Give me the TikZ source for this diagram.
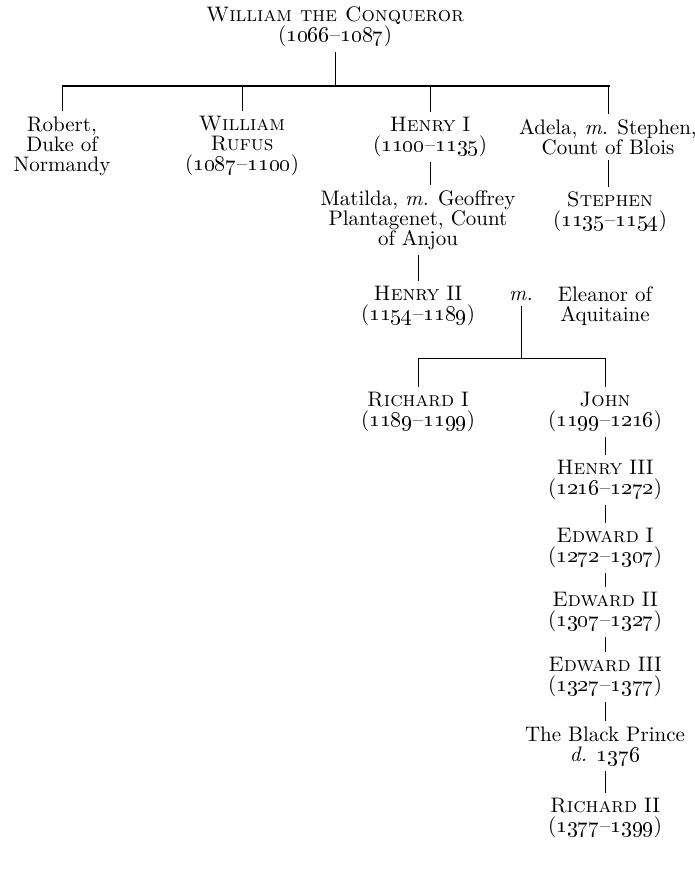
\documentclass[tikz,border=0pt]{standalone}
\usetikzlibrary{positioning}
\newcommand{\yrs}[2]{(\oldstylenums{#1}--\oldstylenums{#2})}
\begin{document}
\begin{tikzpicture}[
    x=0.5pt, y=-0.5pt,
    person/.style={align=center, font=\fontsize{10.5}{10}\selectfont, inner sep=2.5pt},
    link/.style={draw, line width=0.4pt},
    bar/.style={draw, line width=0.9pt},
]
    \useasboundingbox (0,0) rectangle (695,874);

    \node[person] (will) at (335,27) {\textsc{William the Conqueror}\\\yrs{1066}{1087}};

    \node[person] (robert) at (62,146) {Robert,\\Duke of\\Normandy};
    \node[person] (rufus) at (242,146) {\textsc{William}\\\textsc{Rufus}\\\yrs{1087}{1100}};
    \node[person] (henryi) at (430,137) {\textsc{Henry} I\\\yrs{1100}{1135}};
    \node[person] (adela) at (608,137) {Adela, \textit{m.} Stephen,\\Count of Blois};

    \node[person] (matilda) at (418,220) {Matilda, \textit{m.} Geoffrey\\Plantagenet, Count\\of Anjou};
    \node[person] (stephen) at (610,212) {\textsc{Stephen}\\\yrs{1135}{1154}};

    \node[person] (henryii) at (418,306) {\textsc{Henry} II\\\yrs{1154}{1189}};
    \node[person] (wed) at (521,296) {\textit{m.}};
    \node[person] (eleanor) at (605,306) {Eleanor of\\Aquitaine};

    \node[person] (richardi) at (418,412) {\textsc{Richard} I\\\yrs{1189}{1199}};
    \node[person] (john) at (605,412) {\textsc{John}\\\yrs{1199}{1216}};
    \node[person] (henryiii) at (605,480) {\textsc{Henry} III\\\yrs{1216}{1272}};
    \node[person] (edwardi) at (605,548) {\textsc{Edward} I\\\yrs{1272}{1307}};
    \node[person] (edwardii) at (605,612) {\textsc{Edward} II\\\yrs{1307}{1327}};
    \node[person] (edwardiii) at (605,677) {\textsc{Edward} III\\\yrs{1327}{1377}};
    \node[person] (prince) at (605,746) {The Black Prince\\\textit{d.} \oldstylenums{1376}};
    \node[person] (richardii) at (605,818) {\textsc{Richard} II\\\yrs{1377}{1399}};

    % children of William
    \coordinate (barL) at (62,86);
    \coordinate (barR) at (610,86);
    \draw[bar] (barL) -- (barR);
    \draw[link] (will) -- (will |- barL);
    \foreach \n in {robert,rufus,henryi,adela}
        \draw[link] (\n |- barL) -- (\n);

    \draw[link] (henryi) -- (henryi |- matilda.north);
    \draw[link] (adela) -- (adela |- stephen.north);
    \draw[link] (matilda) -- (henryii);

    % children of Henry II and Eleanor
    \coordinate (bar2L) at (418,358);
    \coordinate (bar2R) at (605,358);
    \draw[link] (bar2L) -- (bar2R);
    \draw[link] (wed) -- (wed |- bar2L);
    \draw[link] (bar2L) -- (richardi);
    \draw[link] (bar2R) -- (john);

    % line of succession
    \foreach \a/\b in {john/henryiii, henryiii/edwardi, edwardi/edwardii,
                       edwardii/edwardiii, edwardiii/prince, prince/richardii}
        \draw[link] (\a) -- (\b);
\end{tikzpicture}
\end{document}
